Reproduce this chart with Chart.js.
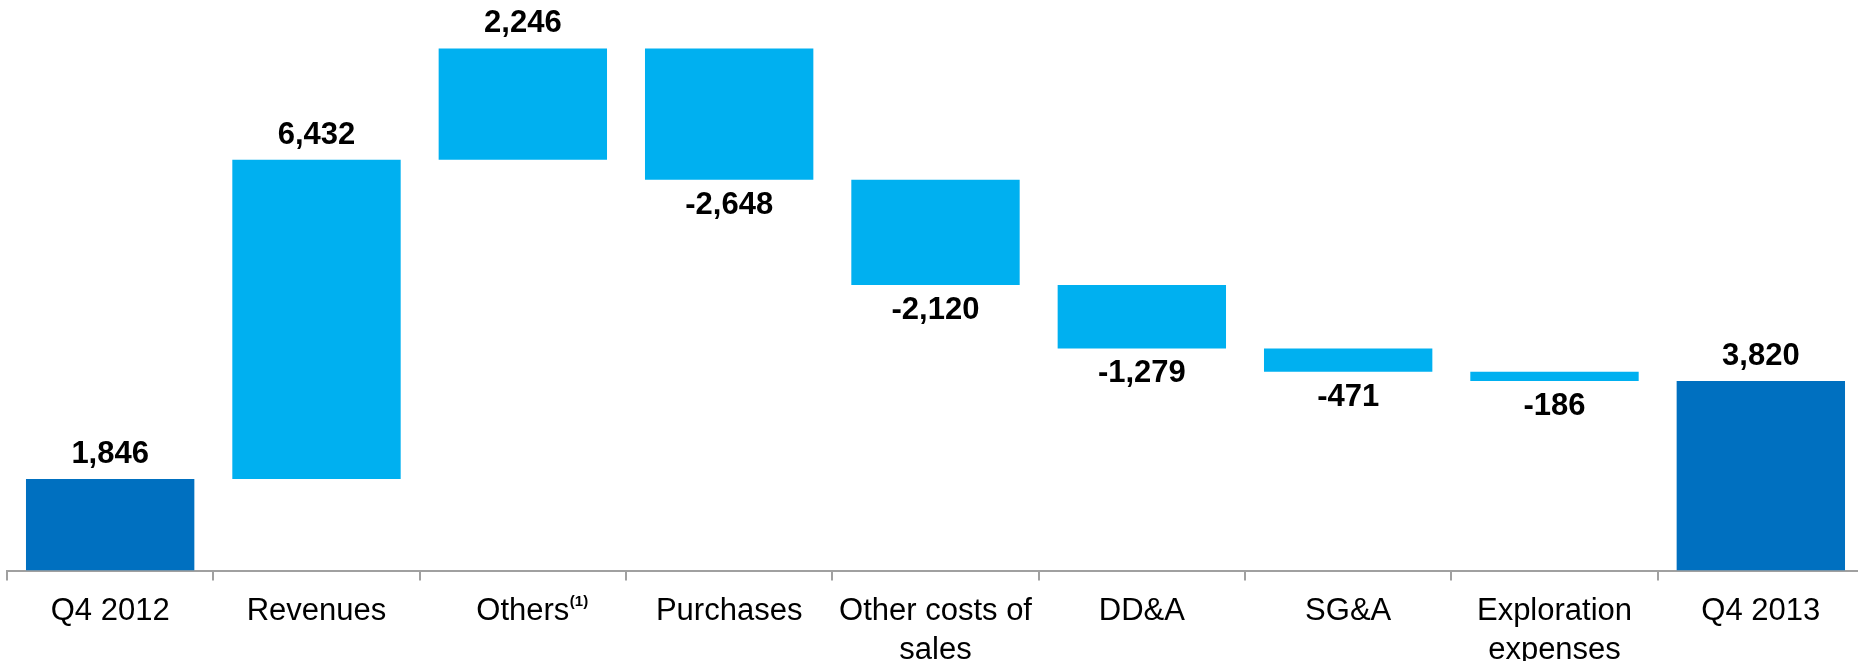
<!DOCTYPE html>
<html>
<head>
<meta charset="utf-8">
<script src="https://cdn.jsdelivr.net/npm/chart.js@4/dist/chart.umd.min.js"></script>
<style>
  html, body { margin: 0; padding: 0; background: #fff; overflow: hidden; }
  #wrap { position: relative; width: 1864px; height: 661px; }
</style>
</head>
<body>
<div id="wrap"><canvas id="bridgeChart"></canvas></div>
<script>
// Puente de resultado Q4 2012 -> Q4 2013
const categories = ['Q4 2012', 'Revenues', 'Others', 'Purchases', ['Other costs of', 'sales'], 'DD&A', 'SG&A', ['Exploration', 'expenses'], 'Q4 2013'];
const changes = [1846, 6432, 2246, -2648, -2120, -1279, -471, -186, 3820];
const isTotal = [true, false, false, false, false, false, false, false, true];
const footnotes = ['', '', '(1)', '', '', '', '', '', ''];

// tramos flotantes [desde, hasta]
const ranges = [];
let running = 0;
changes.forEach((v, i) => {
  if (isTotal[i]) {
    ranges.push([0, v]);
    running = v;
  } else {
    ranges.push([running, running + v]);
    running += v;
  }
});

const FONT = '"Liberation Sans", Arial, sans-serif';

const valueLabels = {
  id: 'valueLabels',
  afterDatasetsDraw(chart) {
    const ctx = chart.ctx;
    const meta = chart.getDatasetMeta(0);
    ctx.save();
    ctx.font = 'bold 31px ' + FONT;
    ctx.fillStyle = '#000';
    ctx.textAlign = 'center';
    meta.data.forEach((bar, i) => {
      const v = changes[i];
      const top = Math.min(bar.y, bar.base);
      const bottom = Math.max(bar.y, bar.base);
      const txt = v.toLocaleString('en-US');
      if (v >= 0 || isTotal[i]) {
        ctx.textBaseline = 'bottom';
        ctx.fillText(txt, bar.x, top - 9);
      } else {
        ctx.textBaseline = 'top';
        ctx.fillText(txt, bar.x, bottom + 10);
      }
    });
    ctx.restore();
  }
};

// superindice de nota junto a la etiqueta del eje
const footnoteMarks = {
  id: 'footnoteMarks',
  afterDraw(chart) {
    const ctx = chart.ctx;
    const xs = chart.scales.x;
    ctx.save();
    footnotes.forEach((note, i) => {
      if (!note) return;
      ctx.font = '31px ' + FONT;
      const w = ctx.measureText(categories[i]).width;
      const x = xs.getPixelForValue(i) + w / 2 + 0.5;
      const y = xs.top + 10 + 12 + 19 - 10;
      ctx.font = 'bold 15px ' + FONT;
      ctx.fillStyle = '#000';
      ctx.textAlign = 'left';
      ctx.textBaseline = 'middle';
      ctx.fillText(note, x, y);
    });
    ctx.restore();
  }
};

new Chart(document.getElementById('bridgeChart'), {
  type: 'bar',
  data: {
    labels: categories,
    datasets: [{
      data: ranges,
      backgroundColor: isTotal.map(t => t ? '#0070C0' : '#00B0F0'),
      borderWidth: 0,
      borderSkipped: false,
      categoryPercentage: 1,
      barPercentage: 0.816
    }]
  },
  options: {
    responsive: true,
    maintainAspectRatio: false,
    animation: false,
    layout: { padding: { left: 7, right: 0, top: 0, bottom: 0 } },
    plugins: {
      legend: { display: false },
      tooltip: { enabled: false }
    },
    scales: {
      x: {
        grid: {
          offset: true,
          drawOnChartArea: false,
          drawTicks: true,
          tickLength: 10,
          color: '#A0A0A0',
          lineWidth: 2
        },
        border: { display: true, color: '#A0A0A0', width: 2 },
        ticks: {
          color: '#000',
          padding: 12,
          maxRotation: 0,
          autoSkip: false,
          font: { family: FONT, size: 31, lineHeight: 1.24 }
        },
        afterFit(scale) { scale.height = 90.5; }
      },
      y: {
        display: false,
        min: 0,
        max: 11500
      }
    }
  },
  plugins: [valueLabels, footnoteMarks]
});
</script>
</body>
</html>
